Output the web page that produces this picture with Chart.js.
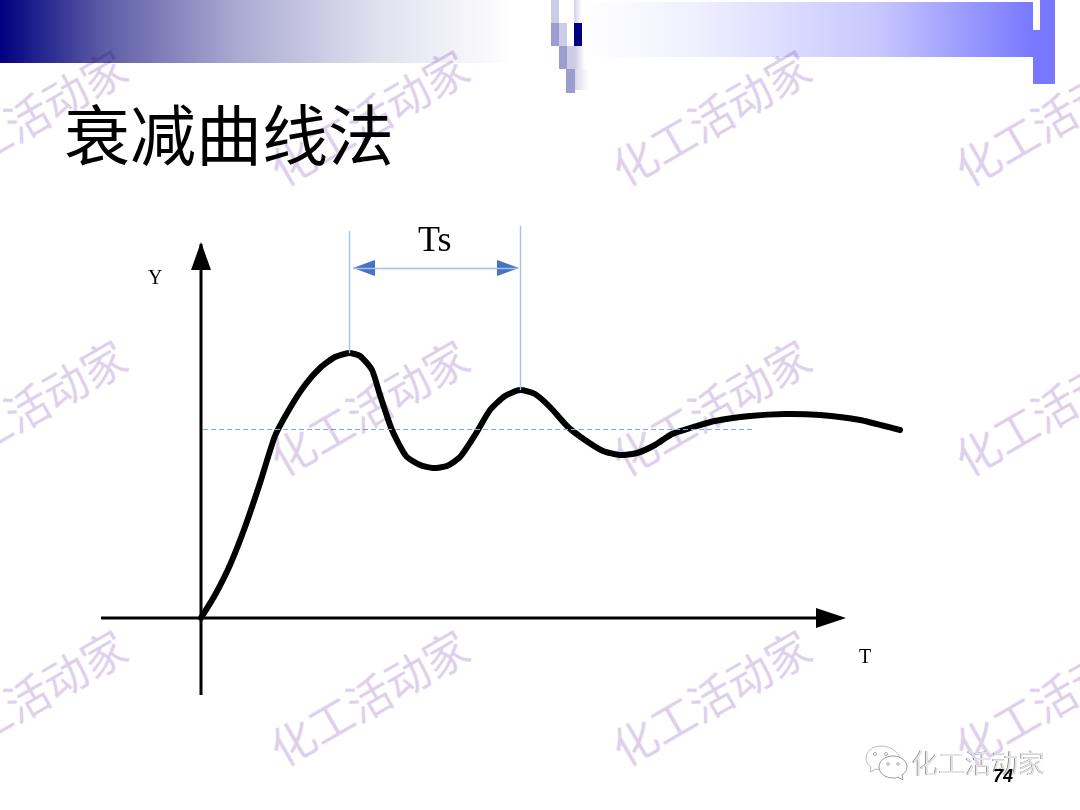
<!DOCTYPE html>
<html><head><meta charset="utf-8">
<script src="https://cdn.jsdelivr.net/npm/chart.js@4"></script>
<style>
html,body{margin:0;padding:0;background:#fff;width:1080px;height:810px;overflow:hidden}
#stage{position:relative;width:1080px;height:810px;overflow:hidden}
#c{position:absolute;left:0;top:0}
.b{position:absolute}
.t{position:absolute;white-space:nowrap;line-height:1}
.wm{position:absolute;white-space:nowrap;line-height:1;font:44px "Noto Sans CJK SC";color:#decfeb;mix-blend-mode:multiply;transform-origin:0 100%;transform:rotate(-30deg);pointer-events:none}
</style></head><body><div id="stage">
<div class="b" style="left:0;top:0;width:515px;height:63px;background:linear-gradient(90deg,#000080,#5c5ca6 20%,#aaaad2 46%,#e2e2f0 74%,#fff)"></div>
<div class="b" style="left:582px;top:2px;width:452px;height:55px;background:linear-gradient(90deg,#fff,#f0f0ff 25%,#c8c8ff 65%,#7878ff)"></div>
<div class="b" style="left:1033px;top:0;width:22px;height:84px;background:#7878ff"></div>
<div class="b" style="left:1033px;top:0;width:7px;height:30px;background:#fff"></div>
<div class="b" style="left:551px;top:0;width:8px;height:23px;background:#ccccE6"></div>
<div class="b" style="left:574px;top:0;width:8px;height:23px;background:linear-gradient(90deg,#d0d0e8,#fff)"></div>
<div class="b" style="left:551px;top:23px;width:8px;height:23px;background:#9c9cce"></div>
<div class="b" style="left:559px;top:23px;width:8px;height:23px;background:#ccccE6"></div>
<div class="b" style="left:574px;top:23px;width:8px;height:23px;background:#000080"></div>
<div class="b" style="left:559px;top:46px;width:8px;height:23px;background:#9c9cce"></div>
<div class="b" style="left:567px;top:46px;width:8px;height:23px;background:#ccccE6"></div>
<div class="b" style="left:575px;top:46px;width:10px;height:23px;background:linear-gradient(90deg,#ccccE6,#fff)"></div>
<div class="b" style="left:566px;top:69px;width:9px;height:24px;background:#9c9cce"></div>
<div class="b" style="left:575px;top:69px;width:14px;height:21px;background:linear-gradient(90deg,#d8d8ea,#fff)"></div>
<canvas id="c" width="1080" height="810"></canvas>
<div class="t" style="left:64px;top:98px;font:66px/1 'Noto Sans CJK SC';color:#000">衰减曲线法</div>
<div class="t" style="left:148px;top:267px;font:20px/1 'Liberation Serif';color:#000">Y</div>
<div class="t" style="left:859px;top:646px;font:20px/1 'Liberation Serif';color:#000">T</div>
<div class="t" style="left:418px;top:221px;font:36px/1 'Liberation Serif';color:#000">Ts</div>
<div id="wms"></div>
<svg class="b" style="left:865px;top:744px" width="44" height="36" viewBox="0 0 44 36">
<path d="M16 2C7 2 1 8 1 14c0 4 2 7 5 9l-1 5 6-3c2 .5 3 .5 5 .5 1 0 2 0 3-.2C31 20 40 14 30 7 27 4 21 2 16 2Z" fill="#fff" stroke="#bbb" stroke-width="1"/>
<path d="M28 12c-8 0-14 5-14 11s6 11 14 11c2 0 3 0 5-1l5 3-1-5c3-2 5-5 5-8 0-6-6-11-14-11Z" fill="#fff" stroke="#999" stroke-width="1"/>
<circle cx="10" cy="10" r="1.5" fill="none" stroke="#aaa"/><circle cx="21" cy="10" r="1.5" fill="none" stroke="#aaa"/>
<circle cx="23" cy="20" r="1.3" fill="none" stroke="#aaa"/><circle cx="33" cy="20" r="1.3" fill="none" stroke="#aaa"/>
</svg>
<div class="t" style="left:912px;top:749px;font:26.6px/1 'Noto Sans CJK SC';color:#e4e4e4;text-shadow:-.7px -.5px 0 #777">化工活动家</div>
<div class="t" style="left:993px;top:767px;font:italic bold 18px/1 'Liberation Sans';color:#000">74</div>
</div>
<script>
// Response curve, in chart units (T, Y)
const curveT = [0,7,14.5,22,29.5,37,44.5,52,59.5,67,74,79.5,85.5,89.5,95.5,102.5,109.5,116,123,129.5,137,144.5,152,159.5,167,174.5,183.5,192,201,209.5,218,227,235.5,244.5,257,274.5,292,309.5,329.5,349.5];
const curveY = [0,11.5,26.5,45.5,67.5,91,105,116.5,125,130.5,132.5,131,124,111.5,94,81,76.5,75,76,80.5,91.5,104,111,114,112,105.5,95.5,89,83.5,81.5,82.5,86.5,92,95,98.5,101,102,101.5,99,94];
// Steady-state level (dashed)
const steadyT = [1,277];
const steadyY = [94.25,94.25];
// Period markers
const peak1T = [74.25,74.25];
const peak1Y = [132.5,193.5];
const peak2T = [159.75,159.75];
const peak2Y = [114,196];
const periodT = [76,158];
const periodY = [174.75,174.75];
// Coordinate axes
const axisXT = [-50,310];
const axisXY = [0,0];
const axisYT = [0,0];
const axisYY = [-38.5,187];
const arrowYPos = [[0,181]];
const arrowXPos = [[315,0]];
const arrowLPos = [[81.5,175]];
const arrowRPos = [[153.5,175]];
// Scale window (plot area is inset 6px by Chart.js for point overflow)
const xMin=-97.5,xMax=436.5,yMin=-93,yMax=306;

const wmCols=[-53,289,631,974], wmRows=[179,469,759];
const wmBox=document.getElementById('wms');
wmCols.forEach(x=>wmRows.forEach(y=>{
  const d=document.createElement('div');d.className='wm';d.textContent='化工活动家';
  d.style.left=x+'px';d.style.top=(y-44)+'px';wmBox.appendChild(d);
}));

function head(w,h,dir,col){
  const c=document.createElement('canvas');c.width=w;c.height=h;const g=c.getContext('2d');
  g.fillStyle=col;g.beginPath();
  if(dir==='u'){g.moveTo(w/2,0);g.lineTo(w,h);g.lineTo(0,h);}
  if(dir==='r'){g.moveTo(w,h/2);g.lineTo(0,h);g.lineTo(0,0);}
  if(dir==='l'){g.moveTo(0,h/2);g.lineTo(w,h);g.lineTo(w,0);}
  g.closePath();g.fill();return c;
}
const pts=(xs,ys)=>xs.map((x,i)=>({x,y:ys[i]}));
const asPts=a=>a.map(p=>({x:p[0],y:p[1]}));
const line=(xs,ys,color,w,extra)=>Object.assign({type:'line',data:pts(xs,ys),borderColor:color,borderWidth:w,pointRadius:0,tension:0,fill:false},extra||{});
const mark=(p,img)=>({type:'scatter',data:asPts(p),pointStyle:img,pointRadius:5,showLine:false});
new Chart(document.getElementById('c'),{
  data:{datasets:[
    line(steadyT,steadyY,'#7fa8ec',1,{borderDash:[5,3]}),
    line(peak1T,peak1Y,'#a4c0ea',1.4),
    line(peak2T,peak2Y,'#a4c0ea',1.4),
    line(periodT,periodY,'#a4c0ea',1.4),
    mark(arrowLPos,head(22,16,'l','#4472c4')),
    mark(arrowRPos,head(22,16,'r','#4472c4')),
    line(axisXT,axisXY,'#000',3),
    line(axisYT,axisYY,'#000',3),
    mark(arrowYPos,head(20,28,'u','#000')),
    mark(arrowXPos,head(30,20,'r','#000')),
    line(curveT,curveY,'#000',6,{tension:.2,borderCapStyle:'round',borderJoinStyle:'round'})
  ]},
  options:{responsive:false,animation:false,devicePixelRatio:1,
    layout:{padding:0},
    plugins:{legend:{display:false},tooltip:{enabled:false},title:{display:false}},
    scales:{x:{type:'linear',display:false,min:xMin,max:xMax},y:{type:'linear',display:false,min:yMin,max:yMax}}
  }
});
</script>
</body></html>
